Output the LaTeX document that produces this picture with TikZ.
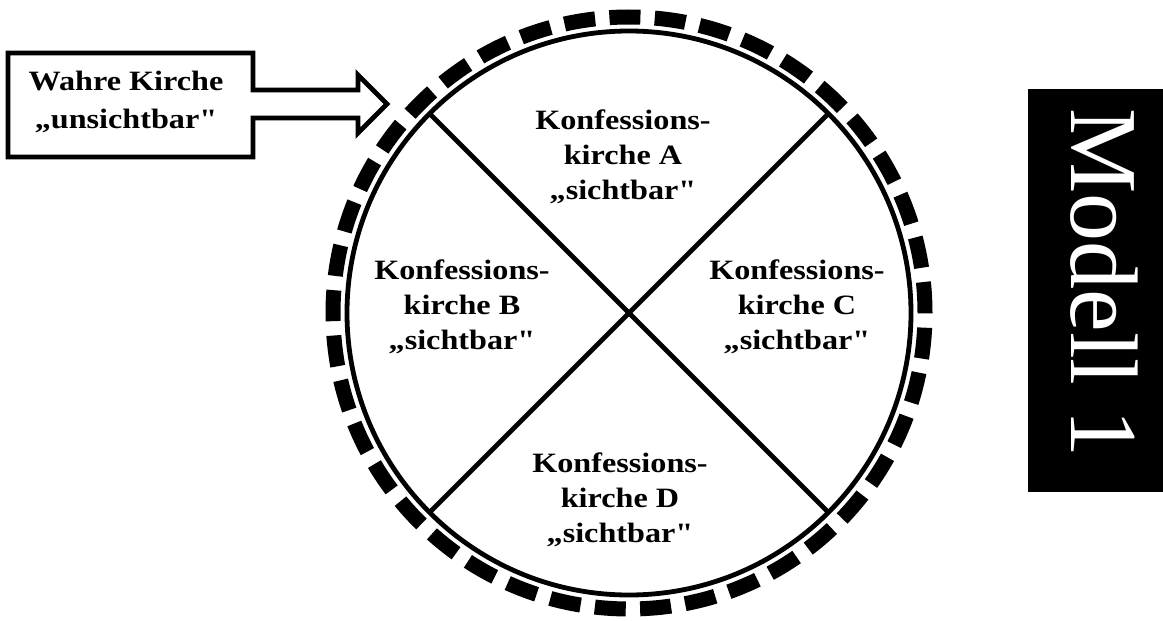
\documentclass[tikz,border=0pt]{standalone}
\usepackage{fontspec}
\setmainfont{Liberation Serif}
\newfontfamily\labelfont[FakeStretch=1.15]{Liberation Serif}
\begin{document}
\begin{tikzpicture}[x=1pt,y=-1pt,
  lbl/.style={align=center,inner sep=0pt,font=\labelfont\bfseries\fontsize{28}{35}\selectfont},
  ringline/.style={line width=4.8pt},
  outerring/.style={circle,draw,inner sep=0pt,outer sep=0pt,minimum size=592pt,
    line width=15pt,dash pattern=on 31pt off 14.36pt},
  innerring/.style={circle,draw,inner sep=0pt,outer sep=0pt,minimum size=564pt,line width=4.8pt},
  arrowbox/.style={draw,line width=4.8pt,line join=miter}]
\useasboundingbox (0,0) rectangle (1163,621);

% the invisible church: dashed outer ring, the visible churches inside
\node[outerring] (ring) at (629,313) {};
\node[innerring] (circ) at (629,313) {};
\draw[ringline] (circ.45) -- (circ.225);
\draw[ringline] (circ.135) -- (circ.315);

\node[lbl] (ka) at (623,157) {Konfessions-\\kirche A\\„sichtbar"};
\node[lbl] (kb) at (462,307) {Konfessions-\\kirche B\\„sichtbar"};
\node[lbl] (kc) at (797,307) {Konfessions-\\kirche C\\„sichtbar"};
\node[lbl] (kd) at (620,500) {Konfessions-\\kirche D\\„sichtbar"};

% label box with block arrow pointing at the ring
\draw[arrowbox] (8,53) -- (253,53) -- (253,90) -- (358,90) -- (358,75)
  -- (387,104) -- (358,133) -- (358,118) -- (253,118) -- (253,157)
  -- (8,157) -- cycle;
\node[lbl,font=\labelfont\bfseries\fontsize{28}{38}\selectfont] (wk) at (126,102) {Wahre Kirche\\„unsichtbar"};

% side tab
\fill (1028,89) rectangle (1170,492);
\node[text=white,rotate=-90,inner sep=0pt,font=\fontsize{96}{96}\selectfont] (modell) at (1104,283) {Modell 1};
\end{tikzpicture}
\end{document}
